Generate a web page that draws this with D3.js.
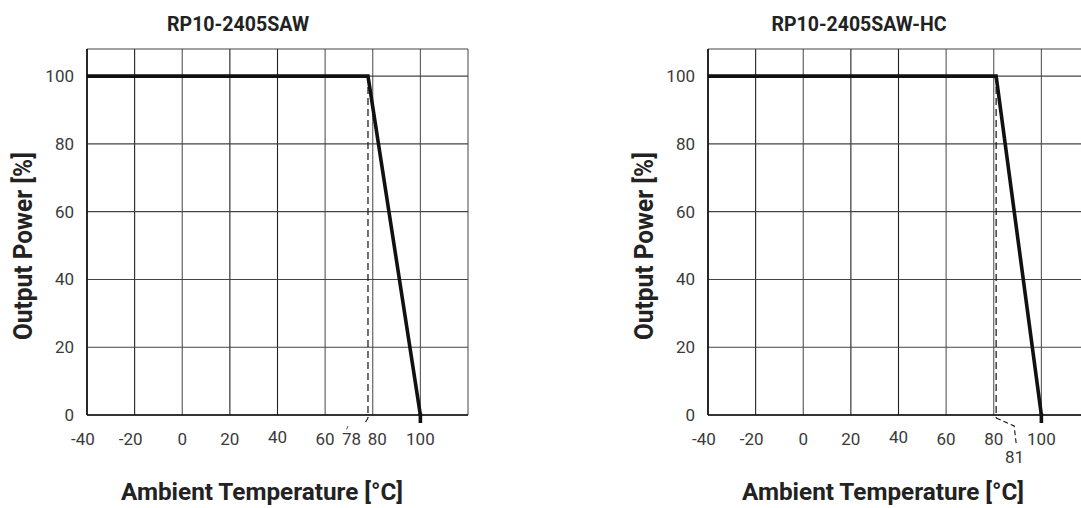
<!DOCTYPE html>
<html>
<head>
<meta charset="utf-8">
<script src="https://cdn.jsdelivr.net/npm/d3@7"></script>
<style>
  html, body { margin: 0; padding: 0; background: #fff; }
  svg { display: block; }
  .tick { font-family: "Roboto", "Liberation Sans", sans-serif; font-weight: 400; }
  .ttl { font-family: "Roboto", "Liberation Sans", sans-serif; font-weight: 700; }
</style>
</head>
<body>
<svg id="chart" width="1081" height="508"></svg>
<script>
// ---- data ----
const chartTitles = ["RP10-2405SAW", "RP10-2405SAW-HC"];
const xTickValues = [-40, -20, 0, 20, 40, 60, 80, 100];
const xGridValues = [-40, -20, 0, 20, 40, 60, 80, 100, 120];
const yTickValues = [0, 20, 40, 60, 80, 100];
const tempSAW = [-40, 78, 100];
const powerSAW = [100, 100, 0];
const tempHC = [-40, 81, 100];
const powerHC = [100, 100, 0];
const derateStart = [78, 81];
const xAxisTitle = "Ambient Temperature [°C]";
const yAxisTitle = "Output Power [%]";

const series = [
  { title: chartTitles[0], temps: tempSAW, power: powerSAW, knee: derateStart[0], left: 87, kneeLabel: "below" },
  { title: chartTitles[1], temps: tempHC, power: powerHC, knee: derateStart[1], left: 708, kneeLabel: "leader" }
];

const svg = d3.select("#chart");
const plotTop = 49, plotW = 381, plotH = 366;
const x = d3.scaleLinear().domain([-40, 120]).range([0, plotW]);
const y = d3.scaleLinear().domain([0, 108]).range([plotH, 0]);

series.forEach(s => {
  const g = svg.append("g").attr("transform", `translate(${s.left},${plotTop})`);

  // grid
  g.selectAll("line.vg").data(xGridValues).join("line")
    .attr("x1", d => x(d)).attr("x2", d => x(d))
    .attr("y1", 0).attr("y2", plotH)
    .attr("stroke", (d, i) => (i % 3 === 2 || d === 80 || d === 100) ? "#555" : "#222")
    .attr("stroke-width", 1.1);
  g.selectAll("line.hg").data(yTickValues.concat([108])).join("line")
    .attr("x1", 0).attr("x2", plotW)
    .attr("y1", d => y(d)).attr("y2", d => y(d))
    .attr("stroke", "#444").attr("stroke-width", 1.1);
  // axes frame lines
  g.append("line").attr("x1", 0).attr("x2", plotW).attr("y1", y(0)).attr("y2", y(0))
    .attr("stroke", "#111").attr("stroke-width", 1.6);
  g.append("line").attr("x1", x(-40)).attr("x2", x(-40)).attr("y1", 0).attr("y2", plotH)
    .attr("stroke", "#111").attr("stroke-width", 1.6);

  // y tick labels
  g.selectAll("text.yt").data(yTickValues).join("text")
    .attr("class", "tick")
    .attr("x", -13).attr("y", d => y(d) + 6)
    .attr("text-anchor", "end")
    .attr("font-size", 17).attr("fill", "#3a3a3a")
    .text(d => d);

  // x tick labels
  g.selectAll("text.xt").data(xTickValues).join("text")
    .attr("class", "tick")
    .attr("x", d => x(d) + (d === 80 && s.kneeLabel === "below" ? 4.5 : 0) + (d < 0 ? -4 : 0))
    .attr("y", d => plotH + (d === 40 ? 28 : 30))
    .attr("text-anchor", "middle")
    .attr("font-size", 17).attr("fill", "#3a3a3a")
    .text(d => d);

  // dashed knee line
  const y0 = y(0);
  g.append("line")
    .attr("x1", x(s.knee)).attr("x2", x(s.knee))
    .attr("y1", y(100)).attr("y2", y0 + 3)
    .attr("stroke", "#111").attr("stroke-width", 1.2)
    .attr("stroke-dasharray", "7,4");

  if (s.kneeLabel === "below") {
    g.append("path")
      .attr("d", `M${x(s.knee)},${y0 + 3} L${x(s.knee) - 2.5},${y0 + 7}`)
      .attr("stroke", "#111").attr("fill", "none").attr("stroke-width", 1.1);
    g.append("text").attr("class", "tick")
      .attr("x", x(s.knee) - 16.4).attr("y", plotH + 30)
      .attr("text-anchor", "middle").attr("font-size", 17).attr("fill", "#3a3a3a")
      .text(s.knee);
    g.append("path")
      .attr("d", `M${x(s.knee) - 20},${y0 + 11} l-1.5,3.5`)
      .attr("stroke", "#444").attr("fill", "none").attr("stroke-width", 0.9);
  } else {
    g.append("path")
      .attr("d", `M${x(s.knee)},${y0 + 3} L${x(s.knee) + 18},${y0 + 11} L${x(s.knee) + 20},${y0 + 28}`)
      .attr("stroke", "#111").attr("fill", "none").attr("stroke-width", 1.1)
      .attr("stroke-dasharray", "5,3");
    g.append("text").attr("class", "tick")
      .attr("x", x(s.knee) + 18.5).attr("y", plotH + 48)
      .attr("text-anchor", "middle").attr("font-size", 17).attr("fill", "#3a3a3a")
      .text(s.knee);
  }

  // derating curve
  const pts = s.temps.map((t, i) => [t, s.power[i]]);
  const line = d3.line().x(d => x(d[0])).y(d => y(d[1]));
  g.append("path").datum(pts)
    .attr("d", line)
    .attr("fill", "none").attr("stroke", "#111")
    .attr("stroke-width", 3.6).attr("stroke-linejoin", "miter");
  // end stub below axis at max temperature
  const last = pts[pts.length - 1];
  g.append("line")
    .attr("x1", x(last[0])).attr("x2", x(last[0]))
    .attr("y1", y(last[1]) - 2).attr("y2", y(last[1]) + 8)
    .attr("stroke", "#111").attr("stroke-width", 3.6);

  // title
  g.append("text").attr("class", "ttl")
    .attr("x", 151).attr("y", -18)
    .attr("text-anchor", "middle")
    .attr("font-size", 21).attr("fill", "#222")
    .attr("textLength", s.kneeLabel === "below" ? 142 : 175)
    .attr("lengthAdjust", "spacingAndGlyphs")
    .text(s.title);

  // axis titles
  g.append("text").attr("class", "ttl")
    .attr("x", 175).attr("y", 500 - plotTop)
    .attr("text-anchor", "middle")
    .attr("font-size", 24).attr("fill", "#222")
    .attr("textLength", 282).attr("lengthAdjust", "spacingAndGlyphs")
    .text(xAxisTitle);
  g.append("text").attr("class", "ttl")
    .attr("transform", `translate(${32 - 87},${246 - plotTop}) rotate(-90)`)
    .attr("text-anchor", "middle")
    .attr("font-size", 26).attr("fill", "#222")
    .attr("textLength", 188).attr("lengthAdjust", "spacingAndGlyphs")
    .text(yAxisTitle);
});
</script>
</body>
</html>
